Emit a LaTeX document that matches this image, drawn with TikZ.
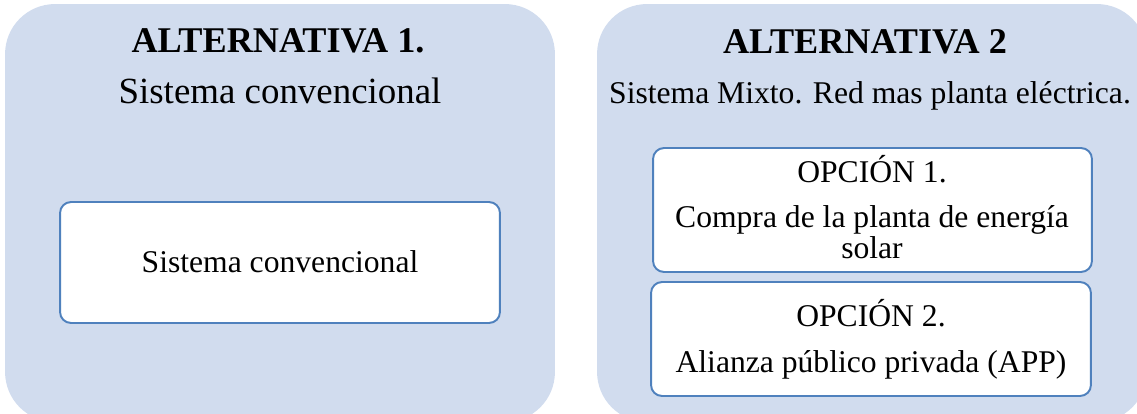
\documentclass[tikz,border=0pt]{standalone}
\usepackage{fontspec}
\setmainfont{Liberation Serif}
\usepackage{tikz}
\definecolor{panelblue}{RGB}{209,220,238}
\definecolor{edgeblue}{RGB}{79,129,189}
\tikzstyle{panel}=[fill=panelblue, rounded corners=1cm, minimum width=11cm,
  minimum height=8.36cm, inner sep=0pt]
\tikzstyle{optbox}=[draw=edgeblue, fill=white, line width=1.1pt,
  rounded corners=0.22cm, inner sep=0pt]
\tikzstyle{alttitle}=[anchor=base, font=\fontsize{20.6}{24}\selectfont\bfseries]
\tikzstyle{boxtext}=[anchor=base, font=\fontsize{18}{21}\selectfont]

\begin{document}
\begin{tikzpicture}[x=0.02cm, y=-0.02cm]
        \useasboundingbox (0,0) rectangle (1137,413);
        \clip (0,0) rectangle (1137,413);
        \node[panel] (alt1) at (280,213) {};
        \node[panel] (alt2) at (872,213) {};
        \node[alttitle] (alt1title) at (278,52) {ALTERNATIVA 1.};
        \node[boxtext, font=\fontsize{21}{25}\selectfont] (alt1sub) at (280,103) {Sistema convencional};
        \node[alttitle] (alt2title) at (865,53) {ALTERNATIVA 2};
        \node[boxtext] (alt2sub) at (870,103) {Sistema Mixto. Red mas planta eléctrica.};
        \node[optbox, minimum width=8.8cm, minimum height=2.42cm] (conv) at (280,262.5) {};
        \node[boxtext] (convtext) at (280,272) {Sistema convencional};
        \node[optbox, minimum width=8.78cm, minimum height=2.48cm] (opc1) at (872.5,210) {};
        \node[boxtext] (opc1name) at (872,182) {OPCIÓN 1.};
        \node[boxtext] (opc1line1) at (872,227) {Compra de la planta de energía};
        \node[boxtext] (opc1line2) at (872,258) {solar};
        \node[optbox, minimum width=8.8cm, minimum height=2.28cm] (opc2) at (871,339) {};
        \node[boxtext] (opc2name) at (871,326) {OPCIÓN 2.};
        \node[boxtext] (opc2line1) at (871,372) {Alianza público privada (APP)};
\end{tikzpicture}
\end{document}
